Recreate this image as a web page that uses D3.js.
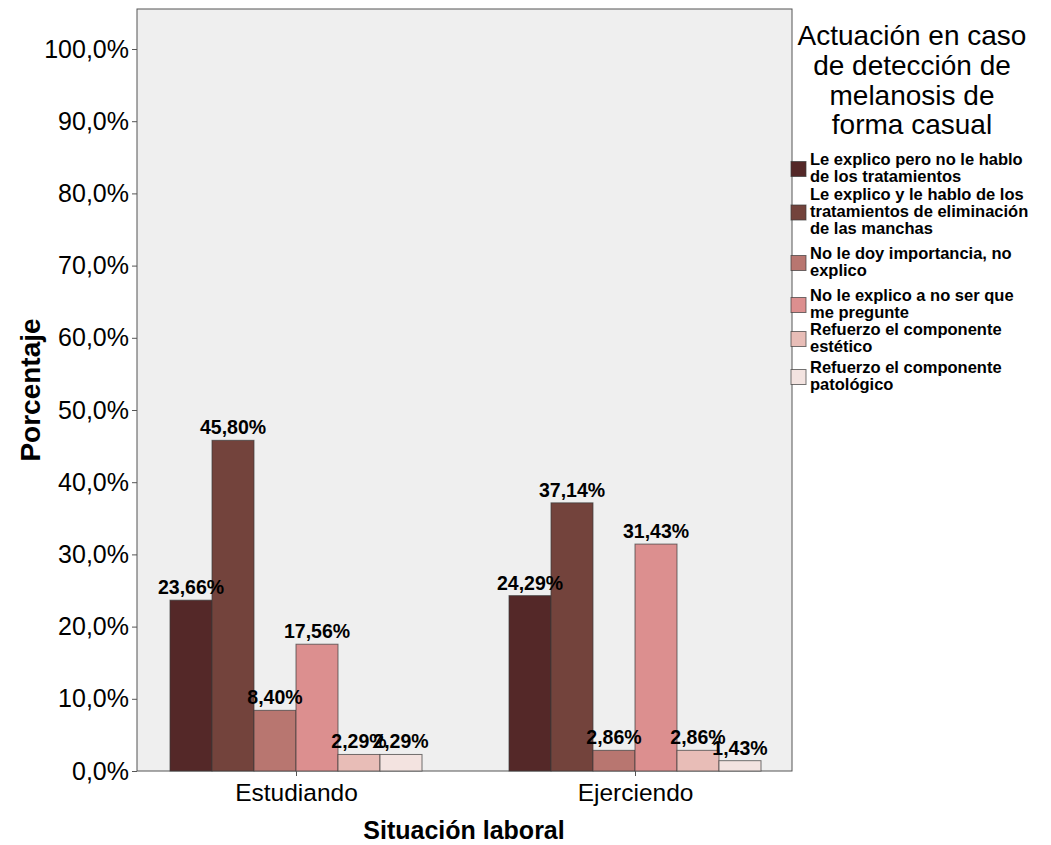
<!DOCTYPE html>
<html>
<head>
<meta charset="utf-8">
<script src="https://cdn.jsdelivr.net/npm/d3@7"></script>
<style>
  body { margin: 0; background: #fff; }
  text { font-family: "Liberation Sans", Arial, sans-serif; }
</style>
</head>
<body>
<div id="chart"></div>
<script>
// data
const categories = ["Estudiando", "Ejerciendo"];
const series = [
  "Le explico pero no le hablo de los tratamientos",
  "Le explico y le hablo de los tratamientos de eliminación de las manchas",
  "No le doy importancia, no explico",
  "No le explico a no ser que me pregunte",
  "Refuerzo el componente estético",
  "Refuerzo el componente patológico"
];
const legendLines = [
  ["Le explico pero no le hablo", "de los tratamientos"],
  ["Le explico y le hablo de los", "tratamientos de eliminación", "de las manchas"],
  ["No le doy importancia, no", "explico"],
  ["No le explico a no ser que", "me pregunte"],
  ["Refuerzo el componente", "estético"],
  ["Refuerzo el componente", "patológico"]
];
const estudiando = [23.66, 45.80, 8.40, 17.56, 2.29, 2.29];
const ejerciendo = [24.29, 37.14, 2.86, 31.43, 2.86, 1.43];
const yTicks = [0, 10, 20, 30, 40, 50, 60, 70, 80, 90, 100];
const colors = ["#542828", "#73433c", "#b87670", "#dc8f8f", "#e8bdb7", "#f3e3e0"];

const values = [estudiando, ejerciendo];

const width = 1051, height = 845;
const plot = { left: 137, top: 9, right: 792, bottom: 771 };

const svg = d3.select("#chart").append("svg")
  .attr("width", width)
  .attr("height", height);

// plot background
svg.append("rect")
  .attr("x", plot.left).attr("y", plot.top)
  .attr("width", plot.right - plot.left)
  .attr("height", plot.bottom - plot.top)
  .attr("fill", "#efefef")
  .attr("stroke", "#555").attr("stroke-width", 1);

const y = d3.scaleLinear().domain([0, 100]).range([plot.bottom, 49]);
const x = d3.scalePoint().domain(categories).range([296, 635]);
const xInner = d3.scaleBand().domain(d3.range(series.length)).range([-126, 126]);

const fmt = v => d3.format(".2f")(v).replace(".", ",") + "%";

// bars
categories.forEach((cat, ci) => {
  const g = svg.append("g").attr("transform", `translate(${x(cat)},0)`);
  g.selectAll("rect")
    .data(values[ci])
    .join("rect")
    .attr("x", (d, i) => xInner(i))
    .attr("y", d => y(d))
    .attr("width", xInner.bandwidth())
    .attr("height", d => plot.bottom - y(d))
    .attr("fill", (d, i) => colors[i])
    .attr("stroke", "#3a3a3a")
    .attr("stroke-opacity", 0.7)
    .attr("stroke-width", 1);
  g.selectAll("text.lbl")
    .data(values[ci])
    .join("text")
    .attr("class", "lbl")
    .attr("x", (d, i) => xInner(i) + xInner.bandwidth() / 2)
    .attr("y", d => y(d) - 6)
    .attr("text-anchor", "middle")
    .attr("font-size", 19.5)
    .attr("font-weight", "bold")
    .attr("fill", "#000")
    .text(d => fmt(d));
});

// y axis
const yAxis = svg.append("g")
  .attr("transform", `translate(${plot.left},0)`)
  .call(d3.axisLeft(y).tickValues(yTicks).tickSize(5).tickPadding(3)
    .tickFormat(d => d3.format(".1f")(d).replace(".", ",") + "%"));
yAxis.select(".domain").remove();
yAxis.selectAll(".tick line").attr("stroke", "#555");
yAxis.selectAll("text").attr("font-size", 25).attr("fill", "#000")
  .style("font-family", "'Liberation Sans', Arial, sans-serif");

// x axis
const xAxis = svg.append("g")
  .attr("transform", `translate(0,${plot.bottom})`)
  .call(d3.axisBottom(x).tickSize(5).tickPadding(8));
xAxis.select(".domain").remove();
xAxis.selectAll(".tick line").attr("stroke", "#555");
xAxis.selectAll("text").attr("font-size", 24.5).attr("fill", "#000")
  .style("font-family", "'Liberation Sans', Arial, sans-serif");

// axis titles
svg.append("text")
  .attr("x", 464).attr("y", 839)
  .attr("text-anchor", "middle")
  .attr("font-size", 25).attr("font-weight", "bold")
  .text("Situación laboral");

svg.append("text")
  .attr("transform", "translate(40,390) rotate(-90)")
  .attr("text-anchor", "middle")
  .attr("font-size", 28).attr("font-weight", "bold")
  .text("Porcentaje");

// legend
const titleLines = ["Actuación en caso", "de detección de", "melanosis de", "forma casual"];
svg.append("g").selectAll("text")
  .data(titleLines)
  .join("text")
  .attr("x", 912)
  .attr("y", (d, i) => 45 + i * 29.8)
  .attr("text-anchor", "middle")
  .attr("font-size", 28)
  .text(d => d);

const itemTop = [152, 187, 246, 288, 322, 360];
const lineH = 17;
const legend = svg.append("g");
legendLines.forEach((lines, i) => {
  const n = lines.length;
  const blockH = n * lineH;
  legend.append("rect")
    .attr("x", 791).attr("y", itemTop[i] + blockH / 2 - 7.5)
    .attr("width", 15).attr("height", 15)
    .attr("fill", colors[i])
    .attr("stroke", "#3a3a3a").attr("stroke-opacity", 0.7);
  lines.forEach((ln, j) => {
    legend.append("text")
      .attr("x", 810)
      .attr("y", itemTop[i] + 13 + j * lineH)
      .attr("font-size", 16.5)
      .attr("font-weight", "bold")
      .text(ln);
  });
});
</script>
</body>
</html>
